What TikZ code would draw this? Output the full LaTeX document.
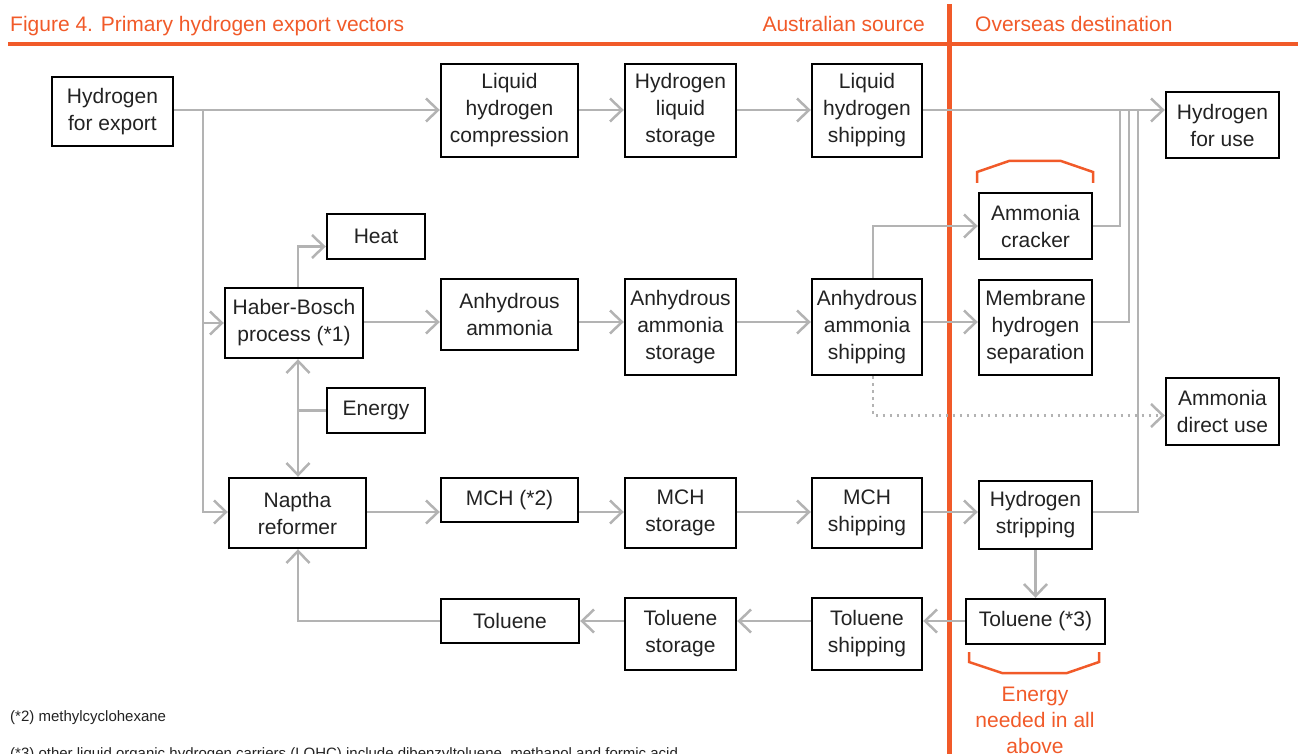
\documentclass[tikz,border=0pt]{standalone}
\usepackage{fontspec}
\setmainfont{Liberation Sans}
\usetikzlibrary{arrows.meta}
\definecolor{org}{HTML}{F15A29}
\definecolor{gry}{HTML}{B3B3B3}
\definecolor{ink}{HTML}{222222}
\tikzset{
  box/.style={draw=black, line width=2.4pt, align=center, inner sep=0pt,
    text=ink, font=\fontsize{21}{27}\selectfont},
  tip/.style={-{Straight Barb[length=12pt,width=23pt]}},
  conn/.style={draw=gry, line width=2.5pt, tip},
  plain/.style={draw=gry, line width=2.5pt},
  dotconn/.style={draw=gry, line width=2.5pt, dash pattern=on 2.5pt off 4.5pt, tip},
  obr/.style={draw=org, line width=2.5pt},
  oline/.style={draw=org},
  hdr/.style={text=org, font=\fontsize{21}{26}\selectfont, inner sep=0pt},
  otext/.style={text=org, font=\fontsize{21}{26}\selectfont, align=center, inner sep=0pt},
  fn/.style={text=ink, font=\fontsize{15}{18}\selectfont, inner sep=0pt}
}
\newcommand\bx[6]{\node[box, minimum width={(#4-#2)*1pt}, minimum height={(#5-#3)*1pt}] (#1) at ({(#2+#4)/2},{(#3+#5)/2}) {#6};}
\begin{document}
\begin{tikzpicture}[x=1pt,y=-1pt]
\useasboundingbox (0,0) rectangle (1301,754);
\clip (0,0) rectangle (1301,754);
% header
\node[hdr, anchor=base west] (title) at (10,32) {Figure 4. Primary hydrogen export vectors};
\node[hdr, anchor=base east] (aus) at (925,32) {Australian source};
\node[hdr, anchor=base west] (ovs) at (975,32) {Overseas destination};
\draw[oline, line width=3.5pt] (8,44) -- (1298,44);
\draw[oline, line width=5pt] (949,4) -- (949,760);
% boxes
\bx{hfe}{52}{77}{173}{146}{Hydrogen\\for export}
\bx{lhc}{441}{64}{578}{157}{Liquid\\hydrogen\\compression}
\bx{hls}{625}{64}{736}{157}{Hydrogen\\liquid\\storage}
\bx{lhs}{812}{64}{922}{157}{Liquid\\hydrogen\\shipping}
\bx{hfu}{1166}{92}{1279}{158}{Hydrogen\\for use}
\bx{heat}{327}{214}{425}{259}{Heat}
\bx{hb}{225}{288}{363}{358}{Haber-Bosch\\process (*1)}
\bx{en}{327}{388}{425}{433}{Energy}
\bx{nr}{229}{478}{366}{548}{Naptha\\reformer}
\bx{aa}{441}{279}{578}{350}{Anhydrous\\ammonia}
\bx{ast}{625}{279}{736}{375}{Anhydrous\\ammonia\\storage}
\bx{asp}{812}{279}{922}{375}{Anhydrous\\ammonia\\shipping}
\bx{ac}{979}{193}{1092}{259}{Ammonia\\cracker}
\bx{mhs}{979}{280}{1092}{375}{Membrane\\hydrogen\\separation}
\bx{adu}{1166}{378}{1279}{445}{Ammonia\\direct use}
\bx{mch}{441}{478}{578}{522}{MCH (*2)}
\bx{ms}{625}{478}{736}{548}{MCH\\storage}
\bx{msp}{812}{478}{922}{548}{MCH\\shipping}
\bx{hs}{979}{481}{1092}{549}{Hydrogen\\stripping}
\bx{t3}{966}{599}{1105}{644}{Toluene (*3)}
\bx{tsh}{812}{598}{922}{670}{Toluene\\shipping}
\bx{tst}{625}{598}{736}{670}{Toluene\\storage}
\bx{tol}{441}{599}{579}{643}{Toluene}
% helper coordinates
\coordinate (r1) at (0,110);
\coordinate (r2) at (0,322);
\coordinate (r3) at (0,512);
\coordinate (r4) at (0,621);
\coordinate (col) at (298,0);
\coordinate (c2) at (873,0);
\coordinate (br) at (203,110);
\coordinate (v1) at (1120,0);
\coordinate (v2) at (1129,0);
\coordinate (v3) at (1138,0);
% row 1
\draw[conn] (hfe.east |- r1) -- (lhc.west |- r1);
\draw[conn] (lhc.east |- r1) -- (hls.west |- r1);
\draw[conn] (hls.east |- r1) -- (lhs.west |- r1);
\draw[conn] (lhs.east |- r1) -- (hfu.west |- r1);
% branch from hydrogen for export
\draw[conn] (br) |- (hb.west);
\draw[conn] (br) |- (nr.west |- r3);
% heat, energy
\draw[conn] (hb.north -| col) |- ([yshift=-10pt]heat.west);
\draw[plain] (en.west) -- (en.west -| col);
\draw[conn] (en.west -| col) -- (hb.south -| col);
\draw[conn] (en.west -| col) -- (nr.north -| col);
% row 2
\draw[conn] (hb.east |- r2) -- (aa.west |- r2);
\draw[conn] (aa.east |- r2) -- (ast.west |- r2);
\draw[conn] (ast.east |- r2) -- (asp.west |- r2);
\draw[conn] (asp.east |- r2) -- (mhs.west |- r2);
\draw[conn] (asp.north -| c2) |- (ac.west);
\draw[dotconn] (asp.south -| c2) |- ([yshift=-4pt]adu.west);
% collectors to hydrogen for use
\draw[plain] (ac.east) -| (v1 |- r1);
\draw[plain] (mhs.east |- r2) -| (v2 |- r1);
\draw[plain] (hs.east |- r3) -| (v3 |- r1);
% row 3
\draw[conn] (nr.east |- r3) -- (mch.west |- r3);
\draw[conn] (mch.east |- r3) -- (ms.west |- r3);
\draw[conn] (ms.east |- r3) -- (msp.west |- r3);
\draw[conn] (msp.east |- r3) -- (hs.west |- r3);
\draw[conn] (hs.south) -- (t3.north);
% row 4
\draw[conn] (t3.west |- r4) -- (tsh.east |- r4);
\draw[conn] (tsh.west |- r4) -- (tst.east |- r4);
\draw[conn] (tst.west |- r4) -- (tol.east |- r4);
\draw[conn] (tol.west |- r4) -| (nr.south -| col);
% orange brackets
\draw[obr] (977,183) -- (977,172) -- (1009,161) -- (1061,161) -- (1093,172) -- (1093,183);
\draw[obr] (969,652) -- (969,662) -- (1002,673) -- (1067,673) -- (1099,662) -- (1099,652);
\node[otext] (energy) at (1035,720) {Energy\\needed in all\\above};
% footnotes
\node[fn, anchor=base west] (fn2) at (10,721) {(*2) methylcyclohexane};
\node[fn, anchor=base west] (fn3) at (10,758) {(*3) other liquid organic hydrogen carriers (LOHC) include dibenzyltoluene, methanol and formic acid};
\end{tikzpicture}
\end{document}
